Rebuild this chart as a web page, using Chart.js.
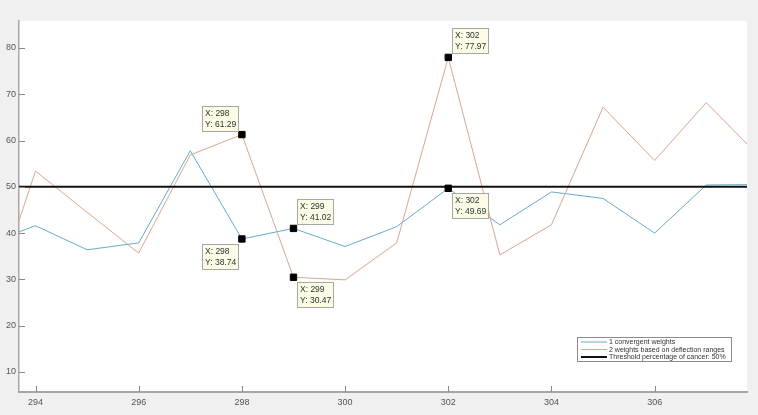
<!DOCTYPE html>
<html>
<head>
<meta charset="utf-8">
<script src="https://cdn.jsdelivr.net/npm/chart.js@4.4.1/dist/chart.umd.min.js"></script>
<style>
    html, body { margin: 0; padding: 0; background: #f0f0f0; }
    #wrap { width: 758px; height: 415px; }
</style>
</head>
<body>
<div id="wrap"><canvas id="chart" width="758" height="415"></canvas></div>
<script>
// Valores
const xValues = [293, 294, 295, 296, 297, 298, 299, 300, 301, 302, 303, 304, 305, 306, 307, 308];
const convergent = [37.5, 41.6, 36.4, 37.9, 57.8, 38.74, 41.02, 37.1, 41.4, 49.69, 41.8, 48.9, 47.5, 40.0, 50.4, 50.5];
const deflection = [20.0, 53.4, 44.5, 35.7, 56.9, 61.29, 30.47, 29.9, 37.9, 77.97, 35.3, 41.8, 67.2, 55.7, 68.2, 56.9];
const threshold = 50;

const xTicks = [294, 296, 298, 300, 302, 304, 306];
const yTicks = [10, 20, 30, 40, 50, 60, 70, 80];

// Data tips (marcadores negros)
const tipX = [298, 298, 299, 299, 302, 302];
const tipY = [61.29, 38.74, 41.02, 30.47, 77.97, 49.69];
const tipPlace = ['nw', 'sw', 'ne', 'se', 'ne', 'se'];

const legendLabels = ['1 convergent weights', '2 weights based on deflection ranges', 'Threshold percentage of cancer: 50%'];

const blue = 'rgb(100, 172, 204)';
const orange = 'rgb(216, 166, 142)';

// Fondo gris y area blanca
const backgroundPlugin = {
    id: 'matlabBackground',
    beforeDraw(chart) {
        const ctx = chart.ctx;
        const a = chart.chartArea;
        ctx.save();
        ctx.fillStyle = '#f0f0f0';
        ctx.fillRect(0, 0, chart.width, chart.height);
        ctx.fillStyle = '#ffffff';
        ctx.fillRect(a.left, a.top, a.right - a.left, a.bottom - a.top);
        ctx.restore();
    }
};

// Marcas de los ejes hacia dentro, como en MATLAB
const inwardTicksPlugin = {
    id: 'inwardTicks',
    afterDatasetsDraw(chart) {
        const ctx = chart.ctx;
        const a = chart.chartArea;
        const xs = chart.scales.x;
        const ys = chart.scales.y;
        ctx.save();
        ctx.strokeStyle = '#8a8a8a';
        ctx.lineWidth = 1;
        ctx.beginPath();
        xTicks.forEach(v => {
            const px = Math.round(xs.getPixelForValue(v)) + 0.5;
            ctx.moveTo(px, a.bottom);
            ctx.lineTo(px, a.bottom - 6);
        });
        yTicks.forEach(v => {
            const py = Math.round(ys.getPixelForValue(v)) + 0.5;
            ctx.moveTo(a.left, py);
            ctx.lineTo(a.left + 6, py);
        });
        ctx.stroke();
        ctx.restore();
    }
};

// Cuadros de texto de los data tips
const dataTipsPlugin = {
    id: 'dataTips',
    afterDatasetsDraw(chart) {
        const ctx = chart.ctx;
        const xs = chart.scales.x;
        const ys = chart.scales.y;
        const w = 36, h = 25;
        ctx.save();
        ctx.font = '8.5px Arial, "Liberation Sans", sans-serif';
        ctx.textBaseline = 'alphabetic';
        tipX.forEach((xv, i) => {
            const px = xs.getPixelForValue(xv);
            const py = ys.getPixelForValue(tipY[i]);
            const place = tipPlace[i];
            let bx = Math.round(place[1] === 'w' ? px - 40 : px + 4);
            let by = Math.round(place[0] === 'n' ? py - 29 : py + 5);
            ctx.fillStyle = '#fbfbe6';
            ctx.fillRect(bx, by, w, h);
            ctx.strokeStyle = '#a8a8a0';
            ctx.lineWidth = 1;
            ctx.strokeRect(bx + 0.5, by + 0.5, w, h);
            ctx.fillStyle = '#333333';
            ctx.fillText('X: ' + xv, bx + 3, by + 10);
            ctx.fillText('Y: ' + tipY[i].toFixed(2), bx + 3, by + 21);
        });
        ctx.restore();
    }
};

// Leyenda dentro del area de trazado
const legendPlugin = {
    id: 'insideLegend',
    afterDraw(chart) {
        const ctx = chart.ctx;
        const a = chart.chartArea;
        const bx = a.right - 170, by = a.bottom - 55, bw = 154, bh = 24;
        const colors = [blue, orange, '#111111'];
        const widths = [1, 1, 2];
        ctx.save();
        ctx.fillStyle = '#ffffff';
        ctx.fillRect(bx, by, bw, bh);
        ctx.strokeStyle = '#8c8c8c';
        ctx.lineWidth = 1;
        ctx.strokeRect(bx + 0.5, by + 0.5, bw, bh);
        ctx.font = '7px Arial, "Liberation Sans", sans-serif';
        ctx.textBaseline = 'middle';
        legendLabels.forEach((label, i) => {
            const ly = by + 5 + i * 7.5;
            ctx.strokeStyle = colors[i];
            ctx.lineWidth = widths[i];
            ctx.beginPath();
            ctx.moveTo(bx + 4, ly);
            ctx.lineTo(bx + 30, ly);
            ctx.stroke();
            ctx.fillStyle = '#333333';
            ctx.fillText(label, bx + 32, ly + 0.5);
        });
        ctx.restore();
    }
};

const ctx = document.getElementById('chart').getContext('2d');
const chart = new Chart(ctx, {
    type: 'line',
    data: {
        datasets: [
            {
                label: legendLabels[0],
                data: xValues.map((x, i) => ({ x: x, y: convergent[i] })),
                borderColor: blue,
                borderWidth: 1,
                pointRadius: 0,
                tension: 0,
                order: 3
            },
            {
                label: legendLabels[1],
                data: xValues.map((x, i) => ({ x: x, y: deflection[i] })),
                borderColor: orange,
                borderWidth: 1,
                pointRadius: 0,
                tension: 0,
                order: 2
            },
            {
                label: legendLabels[2],
                data: [{ x: xValues[0], y: threshold }, { x: xValues[xValues.length - 1], y: threshold }],
                borderColor: '#111111',
                borderWidth: 2,
                pointRadius: 0,
                order: 1
            },
            {
                type: 'scatter',
                label: 'tips',
                data: tipX.map((x, i) => ({ x: x, y: tipY[i] })),
                pointStyle: 'rect',
                pointRadius: 4.5,
                backgroundColor: '#000000',
                borderColor: '#000000',
                borderWidth: 1,
                order: 0
            }
        ]
    },
    options: {
        responsive: false,
        animation: false,
        events: [],
        layout: {
            padding: { top: 21, right: 11, left: 0, bottom: 0 }
        },
        scales: {
            x: {
                type: 'linear',
                min: 293.68,
                max: 307.79,
                afterBuildTicks: scale => { scale.ticks = xTicks.map(v => ({ value: v })); },
                afterFit: scale => { scale.height = 23; },
                grid: { display: false, drawTicks: false },
                border: { display: true, color: '#a6a6a6', width: 2 },
                ticks: {
                    padding: 5,
                    color: '#555555',
                    font: { family: 'Arial, "Liberation Sans", sans-serif', size: 9 },
                    maxRotation: 0
                }
            },
            y: {
                type: 'linear',
                min: 5.68,
                max: 85.83,
                afterBuildTicks: scale => { scale.ticks = yTicks.map(v => ({ value: v })); },
                afterFit: scale => { scale.width = 19; },
                grid: { display: false, drawTicks: false },
                border: { display: true, color: '#a6a6a6', width: 1.5 },
                ticks: {
                    padding: 3,
                    color: '#555555',
                    font: { family: 'Arial, "Liberation Sans", sans-serif', size: 9 }
                }
            }
        },
        plugins: {
            legend: { display: false },
            tooltip: { enabled: false }
        }
    },
    plugins: [backgroundPlugin, inwardTicksPlugin, dataTipsPlugin, legendPlugin]
});
</script>
</body>
</html>
